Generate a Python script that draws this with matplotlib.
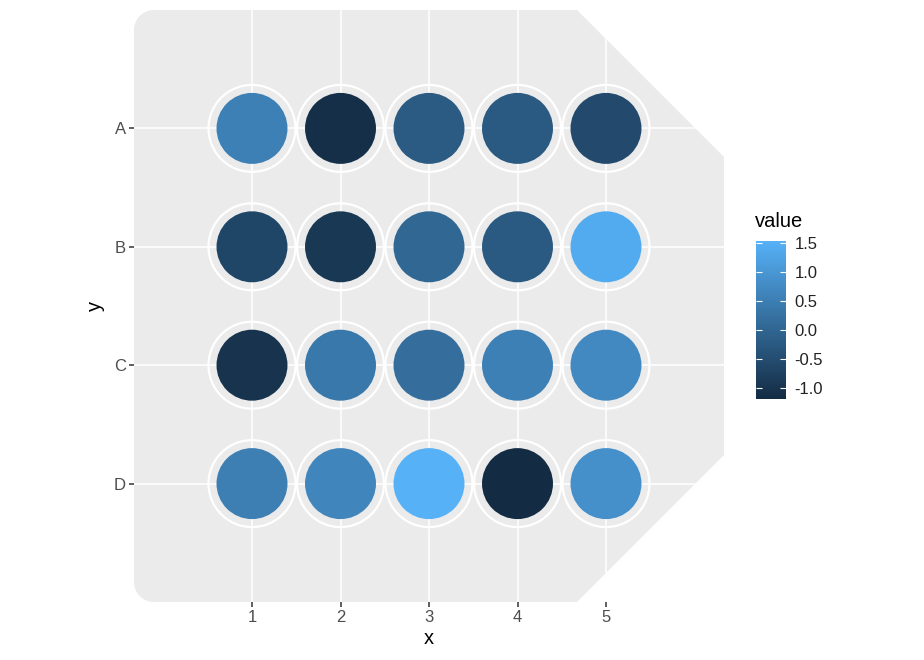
import numpy as np
import matplotlib.pyplot as plt
from matplotlib.colors import LinearSegmentedColormap, Normalize
from matplotlib.patches import Polygon
from matplotlib.cm import ScalarMappable

plt.rcParams['font.family'] = ['Liberation Sans', 'DejaVu Sans']
plt.rcParams['axes.unicode_minus'] = False

# data
rows = ['A', 'B', 'C', 'D']
cols = [1, 2, 3, 4, 5]
row_A = [0.53, -1.11, -0.22, -0.24, -0.56]
row_B = [-0.64, -0.93, 0.03, -0.24, 1.41]
row_C = [-1.01, 0.37, 0.17, 0.53, 0.72]
row_D = [0.49, 0.63, 1.53, -1.19, 0.86]
cbar_ticks = [-1.0, -0.5, 0.0, 0.5, 1.0, 1.5]

values = np.array([row_A, row_B, row_C, row_D])

cmap = LinearSegmentedColormap.from_list('gg', ['#132B43', '#56B1F7'])
norm = Normalize(vmin=values.min(), vmax=values.max())

fig = plt.figure(figsize=(9.24, 6.6), dpi=100)
W, H = 924, 660
# panel in pixels: x 134..724, y 10..602 (from top)
pl, pr, pt, pb = 134, 724, 10, 602
ax = fig.add_axes([pl / W, (H - pb) / H, (pr - pl) / W, (pb - pt) / H])
ax.set_xlim(-1 / 3, 19 / 3)
ax.set_ylim(5, 0)
ax.patch.set_visible(False)
for s in ax.spines.values():
    s.set_visible(False)

# plate-shaped panel background (rounded left corners, chamfered right corners)
w, h = pr - pl, pb - pt
r = 20
cx, cy = 443, 147
pts = []
for a in np.linspace(np.pi, np.pi / 2, 20):
    pts.append((r + r * np.cos(a), h - r + r * np.sin(a)))
pts += [(cx, h), (w, h - cy), (w, cy), (cx, 0)]
for a in np.linspace(3 * np.pi / 2, np.pi, 20):
    pts.append((r + r * np.cos(a), r + r * np.sin(a)))
pts = np.array(pts) / [w, h]
panel = Polygon(pts, closed=True, transform=ax.transAxes,
                facecolor='#EBEBEB', edgecolor='none', zorder=0)
ax.add_patch(panel)

for x in cols:
    ln = ax.axvline(x, color='white', lw=1.1, zorder=1)
    ln.set_clip_path(panel)
for i in range(len(rows)):
    ln = ax.axhline(i + 1, color='white', lw=1.1, zorder=1)
    ln.set_clip_path(panel)

xx, yy = np.meshgrid(cols, np.arange(1, len(rows) + 1))
ax.scatter(xx.ravel(), yy.ravel(), s=3920, facecolors='none',
           edgecolors='white', linewidths=1.6, zorder=2)
ax.scatter(xx.ravel(), yy.ravel(), s=2611, c=values.ravel(), cmap=cmap,
           norm=norm, linewidths=0, zorder=3)

ax.set_xticks(cols)
ax.set_xticklabels([str(c) for c in cols])
ax.set_yticks(np.arange(1, len(rows) + 1))
ax.set_yticklabels(rows)
ax.tick_params(axis='both', length=3.5, width=1.1, color='#333333',
               labelcolor='#4D4D4D', labelsize=12, pad=2.5)
ax.set_xlabel('x', fontsize=14.5, labelpad=3)
ax.set_ylabel('y', fontsize=14.5, labelpad=6)

# colorbar
cax = fig.add_axes([756 / W, (H - 399) / H, 30 / W, 158 / H])
cb = fig.colorbar(ScalarMappable(norm=norm, cmap=cmap), cax=cax)
cb.outline.set_visible(False)
cb.set_ticks(cbar_ticks)
cb.set_ticklabels(['%.1f' % t for t in cbar_ticks])
cax.tick_params(axis='y', direction='in', length=4.3, width=0.8,
                color='white', left=True, right=True,
                labelleft=False, labelright=True,
                labelsize=12, labelcolor='#222222', pad=6)
fig.text(755 / W, (H - 222) / H, 'value', fontsize=14.5, ha='left', va='center')

fig.savefig('out.png', dpi=100)
